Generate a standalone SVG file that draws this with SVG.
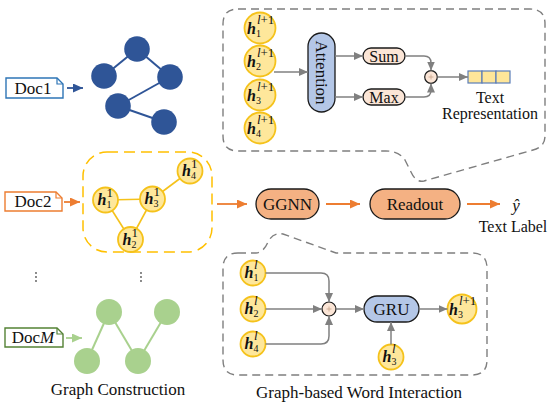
<svg xmlns="http://www.w3.org/2000/svg" width="548" height="402" viewBox="0 0 548 402">
  <style>
    text { font-family: "Liberation Serif", "Times New Roman", serif; fill: #111; }
    .t17 { font-size: 17px; }
    .mid { text-anchor: middle; }
    .doc { fill: #fff; stroke-width: 1.4; }
    .fold { fill: none; stroke-width: 1.2; }
    .wnode { fill: #FEE79B; stroke: #F5C21B; stroke-width: 1.8; }
    .lab { font-size: 16px; }
    .hb { font-weight: bold; font-style: italic; }
    .sb { font-size: 10px; }
    .sp { font-size: 13px; }
    .dash { fill: none; stroke: #7F7F7F; stroke-width: 1.4; stroke-dasharray: 8 5; }
    .ga { fill: none; stroke: #808080; stroke-width: 1.5; marker-end: url(#ahGray); }
    .oa { fill: none; stroke: #ED7D31; stroke-width: 1.8; marker-end: url(#ahOrange); }
    .pill { stroke: #1A1A1A; stroke-width: 1.3; }
    .blue { fill: #B4C7E7; }
    .peach { fill: #FBE5D6; }
    .orange { fill: #F4B183; }
    .bnode { fill: #2F5597; }
    .gnode { fill: #A9D18E; }
  </style>
  <defs>
    <marker id="ahGray" markerUnits="userSpaceOnUse" markerWidth="10" markerHeight="8" refX="9" refY="4" orient="auto">
      <path d="M0,0 L9,4 L0,8 Z" fill="#808080"/>
    </marker>
    <marker id="ahOrange" markerUnits="userSpaceOnUse" markerWidth="11" markerHeight="9" refX="10" refY="4.5" orient="auto">
      <path d="M0,0 L10,4.5 L0,9 Z" fill="#ED7D31"/>
    </marker>
    <marker id="ahBlue" markerUnits="userSpaceOnUse" markerWidth="11" markerHeight="9" refX="10" refY="4.5" orient="auto">
      <path d="M0,0 L10,4.5 L0,9 Z" fill="#2F5597"/>
    </marker>
    <marker id="ahGreen" markerUnits="userSpaceOnUse" markerWidth="11" markerHeight="9" refX="10" refY="4.5" orient="auto">
      <path d="M0,0 L10,4.5 L0,9 Z" fill="#A9D18E"/>
    </marker>
  </defs>

  <!-- callout outlines -->
  <g id="callouts">
    <path class="dash" d="M238,9 H530 Q545,9 545,24 V136 Q545,147 533,150 L424,181 Q416,183 411,172 L405,160 Q399,151 386,151 H238 Q223,151 223,136 V24 Q223,9 238,9 Z"/>
    <path class="dash" d="M238,253 H256 Q264,252 268,242 Q273,232 283,234 L336,253 H472 Q487,253 487,268 V360 Q487,375 472,375 H238 Q223,375 223,360 V268 Q223,253 238,253 Z"/>
    <rect x="83" y="152" width="129" height="100" rx="24" fill="none" stroke="#FFC000" stroke-width="1.5" stroke-dasharray="11 6"/>
  </g>

  <!-- documents -->
  <g id="doc1">
    <path class="doc" stroke="#2E75B6" d="M6,78 H57 L63,84 V98 H6 Z"/>
    <path class="fold" stroke="#2E75B6" d="M57,78 V84 H63"/>
    <text class="t17 mid" x="33" y="94">Doc1</text>
  </g>
  <g id="doc2">
    <path class="doc" stroke="#ED7D31" d="M5,192 H56 L62,198 V211 H5 Z"/>
    <path class="fold" stroke="#ED7D31" d="M56,192 V198 H62"/>
    <text class="t17 mid" x="33" y="207">Doc2</text>
  </g>
  <g id="docM">
    <path class="doc" stroke="#548235" d="M5,328 H57 L63,334 V347 H5 Z"/>
    <path class="fold" stroke="#548235" d="M57,328 V334 H63"/>
    <text class="t17 mid" x="33" y="343">Doc<tspan font-style="italic">M</tspan></text>
  </g>

  <!-- ellipsis between documents -->
  <g id="ellipsis" fill="#555">
    <circle cx="36" cy="273" r="0.9"/><circle cx="36" cy="277" r="0.9"/><circle cx="36" cy="281" r="0.9"/>
    <circle cx="141" cy="273" r="0.9"/><circle cx="141" cy="277" r="0.9"/><circle cx="141" cy="281" r="0.9"/>
  </g>

  <!-- graph of Doc1 -->
  <g id="graph1">
    <g stroke="#2F5597" stroke-width="2">
      <line x1="137" y1="49" x2="104" y2="76"/>
      <line x1="137" y1="49" x2="170" y2="77"/>
      <line x1="170" y1="77" x2="118" y2="106"/>
      <line x1="118" y1="106" x2="164" y2="122"/>
    </g>
    <circle class="bnode" cx="137" cy="49" r="12.8"/>
    <circle class="bnode" cx="104" cy="76" r="12.8"/>
    <circle class="bnode" cx="170" cy="77" r="12.8"/>
    <circle class="bnode" cx="118" cy="106" r="12.8"/>
    <circle class="bnode" cx="164" cy="122" r="12.8"/>
  </g>

  <!-- graph of Doc2 -->
  <g id="graph2">
    <g stroke="#F5C21B" stroke-width="1.6">
      <line x1="105.5" y1="200" x2="152.5" y2="199"/>
      <line x1="105.5" y1="200" x2="130.5" y2="239.5"/>
      <line x1="152.5" y1="199" x2="130.5" y2="239.5"/>
      <line x1="152.5" y1="199" x2="190" y2="171"/>
    </g>
    <g id="d2h1"><circle class="wnode" cx="105.5" cy="200" r="12.5"/>
      <text class="lab" x="97.5" y="205"><tspan class="hb">h</tspan><tspan class="sb" dy="3">1</tspan><tspan class="sp" dx="-5" dy="-11">1</tspan></text></g>
    <g id="d2h3"><circle class="wnode" cx="152.5" cy="199" r="12.5"/>
      <text class="lab" x="144.5" y="204"><tspan class="hb">h</tspan><tspan class="sb" dy="3">3</tspan><tspan class="sp" dx="-5" dy="-11">1</tspan></text></g>
    <g id="d2h4"><circle class="wnode" cx="190" cy="171" r="12.5"/>
      <text class="lab" x="182" y="176"><tspan class="hb">h</tspan><tspan class="sb" dy="3">4</tspan><tspan class="sp" dx="-5" dy="-11">1</tspan></text></g>
    <g id="d2h2"><circle class="wnode" cx="130.5" cy="239.5" r="12.5"/>
      <text class="lab" x="122.5" y="244.5"><tspan class="hb">h</tspan><tspan class="sb" dy="3">2</tspan><tspan class="sp" dx="-5" dy="-11">1</tspan></text></g>
  </g>

  <!-- graph of DocM -->
  <g id="graphM">
    <g stroke="#A9D18E" stroke-width="2">
      <line x1="87" y1="361" x2="109" y2="312"/>
      <line x1="109" y1="312" x2="138" y2="361"/>
      <line x1="138" y1="361" x2="167" y2="312"/>
    </g>
    <circle class="gnode" cx="109" cy="312" r="13"/>
    <circle class="gnode" cx="167" cy="312" r="13"/>
    <circle class="gnode" cx="87" cy="361" r="13"/>
    <circle class="gnode" cx="138" cy="361" r="13"/>
  </g>

  <!-- readout detail: node states -->
  <g id="r1"><circle class="wnode" cx="260" cy="28" r="15.5"/>
    <text class="lab" x="247" y="34"><tspan class="hb">h</tspan><tspan class="sb" dy="3">1</tspan><tspan class="sp" dx="-4" dy="-13"><tspan font-style="italic">l</tspan>+1</tspan></text></g>
  <g id="r2"><circle class="wnode" cx="260" cy="61" r="15.5"/>
    <text class="lab" x="247" y="67"><tspan class="hb">h</tspan><tspan class="sb" dy="3">2</tspan><tspan class="sp" dx="-4" dy="-13"><tspan font-style="italic">l</tspan>+1</tspan></text></g>
  <g id="r3"><circle class="wnode" cx="260" cy="95" r="15.5"/>
    <text class="lab" x="247" y="101"><tspan class="hb">h</tspan><tspan class="sb" dy="3">3</tspan><tspan class="sp" dx="-4" dy="-13"><tspan font-style="italic">l</tspan>+1</tspan></text></g>
  <g id="r4"><circle class="wnode" cx="260" cy="128" r="15.5"/>
    <text class="lab" x="247" y="134"><tspan class="hb">h</tspan><tspan class="sb" dy="3">4</tspan><tspan class="sp" dx="-4" dy="-13"><tspan font-style="italic">l</tspan>+1</tspan></text></g>

  <g id="attention">
    <rect class="pill blue" x="308" y="33" width="27" height="79" rx="13.5"/>
    <text class="t17 mid" x="321.5" y="72.5" dominant-baseline="central" transform="rotate(90 321.5 72.5)">Attention</text>
  </g>
  <g id="sum">
    <rect class="pill peach" x="363" y="48" width="42" height="16" rx="8"/>
    <text class="mid" font-size="16" x="384" y="61.5">Sum</text>
  </g>
  <g id="max">
    <rect class="pill peach" x="363" y="89" width="42" height="16" rx="8"/>
    <text class="mid" font-size="16" x="384" y="102.5">Max</text>
  </g>
  <g id="plusTop">
    <circle class="peach" cx="431" cy="77" r="6.3" stroke="#1A1A1A" stroke-width="1.2"/>
    <path d="M428.5,77 H433.5 M431,74.5 V79.5" stroke="#C9A48C" stroke-width="0.8"/>
  </g>
  <g id="textRep">
    <g fill="#FFE699" stroke="#5B7DB8" stroke-width="1.2">
      <rect x="468" y="71" width="14" height="12"/>
      <rect x="482" y="71" width="14" height="12"/>
      <rect x="496" y="71" width="14" height="12"/>
    </g>
    <text class="mid" font-size="16" x="490" y="103">Text</text>
    <text class="mid" font-size="16" x="490" y="119">Representation</text>
  </g>

  <!-- main pipeline -->
  <g id="ggnn">
    <rect class="pill orange" x="256" y="189" width="63" height="30" rx="15"/>
    <text class="t17 mid" x="287.5" y="210">GGNN</text>
  </g>
  <g id="readout">
    <rect class="pill orange" x="370" y="189" width="90" height="30" rx="15"/>
    <text class="t17 mid" x="415" y="210">Readout</text>
  </g>
  <g id="label">
    <text class="t17 mid" x="516" y="211" font-style="italic">ŷ</text>
    <text class="mid" font-size="16" x="513" y="232">Text Label</text>
  </g>

  <!-- word interaction detail -->
  <g id="w1"><circle class="wnode" cx="253" cy="273" r="12.5"/>
    <text class="lab" x="244.5" y="278"><tspan class="hb">h</tspan><tspan class="sb" dy="3">1</tspan><tspan class="sp" dx="-4.5" dy="-12" font-style="italic">l</tspan></text></g>
  <g id="w2"><circle class="wnode" cx="253" cy="309" r="12.5"/>
    <text class="lab" x="244.5" y="314"><tspan class="hb">h</tspan><tspan class="sb" dy="3">2</tspan><tspan class="sp" dx="-4.5" dy="-12" font-style="italic">l</tspan></text></g>
  <g id="w4"><circle class="wnode" cx="253" cy="344" r="12.5"/>
    <text class="lab" x="244.5" y="349"><tspan class="hb">h</tspan><tspan class="sb" dy="3">4</tspan><tspan class="sp" dx="-4.5" dy="-12" font-style="italic">l</tspan></text></g>
  <g id="w3"><circle class="wnode" cx="391" cy="357" r="12.5"/>
    <text class="lab" x="382.5" y="362"><tspan class="hb">h</tspan><tspan class="sb" dy="3">3</tspan><tspan class="sp" dx="-4.5" dy="-12" font-style="italic">l</tspan></text></g>
  <g id="w3next"><circle class="wnode" cx="462" cy="309" r="14.5"/>
    <text class="lab" x="449" y="315"><tspan class="hb">h</tspan><tspan class="sb" dy="3">3</tspan><tspan class="sp" dx="-4" dy="-13"><tspan font-style="italic">l</tspan>+1</tspan></text></g>
  <g id="plusBottom">
    <circle class="peach" cx="329" cy="309" r="7" stroke="#1A1A1A" stroke-width="1.2"/>
    <path d="M326.5,309 H331.5 M329,306.5 V311.5" stroke="#C9A48C" stroke-width="0.8"/>
  </g>
  <g id="gru">
    <rect class="pill blue" x="364" y="296" width="55" height="26" rx="13"/>
    <text class="t17 mid" x="391.5" y="315">GRU</text>
  </g>

  <!-- captions -->
  <g id="captions">
    <text class="t17 mid" x="118" y="395">Graph Construction</text>
    <text class="t17 mid" x="359" y="398">Graph-based Word Interaction</text>
  </g>

  <!-- connectors -->
  <g id="connectors">
    <line x1="67" y1="88" x2="83" y2="88" stroke="#2F5597" stroke-width="1.8" marker-end="url(#ahBlue)"/>
    <line class="oa" x1="64" y1="202" x2="80" y2="202"/>
    <line x1="66" y1="338" x2="82" y2="338" stroke="#A9D18E" stroke-width="1.8" marker-end="url(#ahGreen)"/>
    <line class="oa" x1="217" y1="204" x2="247" y2="204"/>
    <line class="oa" x1="326" y1="204" x2="360" y2="204"/>
    <line class="oa" x1="467" y1="204" x2="500" y2="204"/>

    <line class="ga" x1="274" y1="72" x2="308" y2="72"/>
    <line class="ga" x1="335" y1="56" x2="363" y2="56"/>
    <line class="ga" x1="335" y1="97" x2="363" y2="97"/>
    <path class="ga" d="M405,56 H424 Q431,56 431,63 V70.5"/>
    <path class="ga" d="M405,97 H424 Q431,97 431,90 V83.5"/>
    <line class="ga" x1="437.5" y1="77" x2="468" y2="77"/>

    <path class="ga" d="M265.5,273 H321 Q329,273 329,281 V302"/>
    <line class="ga" x1="265.5" y1="309" x2="322" y2="309"/>
    <path class="ga" d="M265.5,344 H321 Q329,344 329,336 V316"/>
    <line class="ga" x1="336" y1="309" x2="364" y2="309"/>
    <line class="ga" x1="419" y1="309" x2="447.5" y2="309"/>
    <line class="ga" x1="391" y1="344.5" x2="391" y2="322"/>
  </g>
</svg>
